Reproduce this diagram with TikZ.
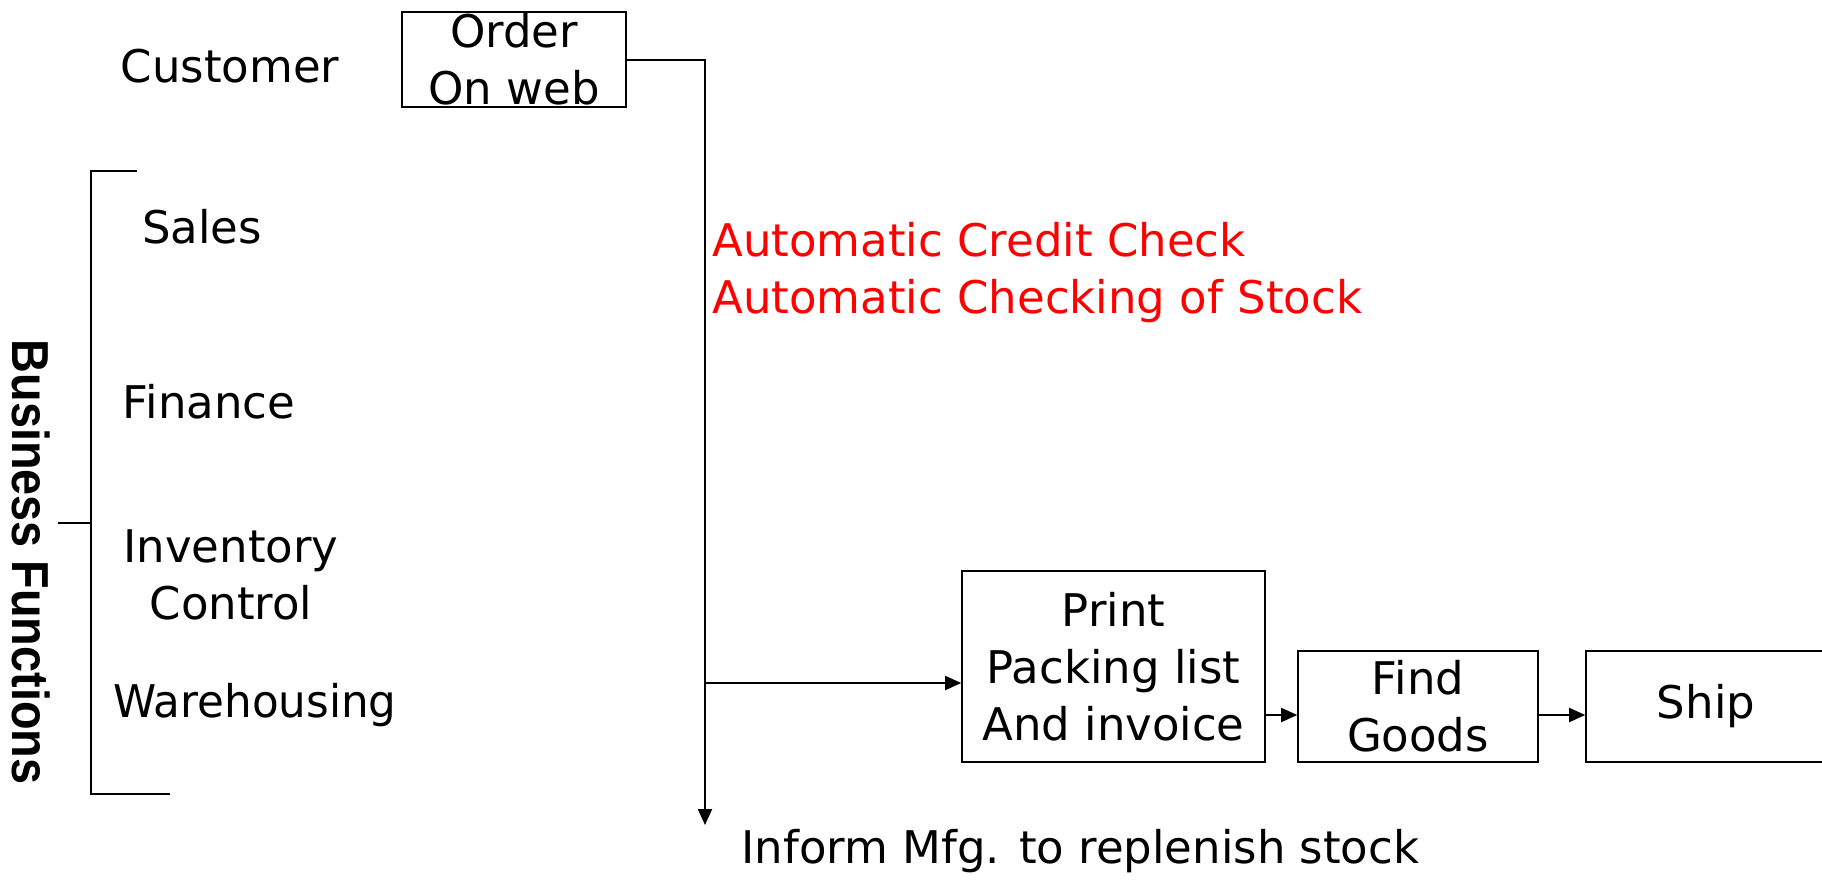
\documentclass[tikz,border=0pt]{standalone}
\usepackage{fontspec}
\setmainfont{DejaVu Sans}
\newfontfamily\boldsans{Liberation Sans}
\usetikzlibrary{arrows.meta,calc}

\begin{document}
\begin{tikzpicture}[x=0.5pt,y=-0.5pt,
        txt/.style={font=\fontsize{22.5}{28.5}\selectfont,inner sep=0pt,align=center},
        blk/.style={txt,draw,line width=0.8pt},
        flow/.style={line width=1pt,-{Triangle[length=8pt,width=7pt]}}]
    \useasboundingbox (0,0) rectangle (1822,879);
    % left column
    \node[txt] (customer) at (230,66) {Customer};
    \node[txt] (sales) at (202,227) {Sales};
    \node[txt] (finance) at (209,402) {Finance};
    \node[txt] (inventory) at (231,575) {Inventory\\Control};
    \node[txt] (warehouse) at (255,705) {\scalebox{0.97}[1]{Warehousing}};
    \node[rotate=-90,inner sep=0pt,font=\boldsans\bfseries\fontsize{26}{30}\selectfont] (business) at (31,562)
        {\scalebox{0.9}[1]{Business Functions}};
    \draw[line width=1pt] (137,171) -- (91,171) -- (91,794) -- (170,794)
        (58,523) -- (91,523);
    % process
    \node[blk,minimum width=112pt,minimum height=47.5pt] (order) at (514,59.5) {Order\\On web};
    \node[txt,red,align=left,anchor=west] (checks) at (712,272.5)
        {Automatic Credit Check\\Automatic Checking of Stock};
    \node[blk,minimum width=151.5pt,minimum height=95.5pt] (print) at (1113.5,666.5) {Print\\Packing list\\And invoice};
    \node[blk,minimum width=120pt,minimum height=55.5pt] (find) at (1418,706.5) {Find\\Goods};
    \node[blk,minimum width=120pt,minimum height=55.5pt] (ship) at (1706,706.5) {Ship};
    \node[txt,anchor=west] (inform) at (741,851) {Inform Mfg. to replenish stock};
    \coordinate (down) at (705,825);
    \coordinate (tap) at (705,683);
    \coordinate (pf) at (0,715);
    \draw[flow] (order.east) -- (order.east -| down) -- (down);
    \draw[flow] (tap) -- (tap -| print.west);
    \draw[flow] (print.east |- pf) -- (find.west |- pf);
    \draw[flow] (find.east |- pf) -- (ship.west |- pf);
\end{tikzpicture}
\end{document}
